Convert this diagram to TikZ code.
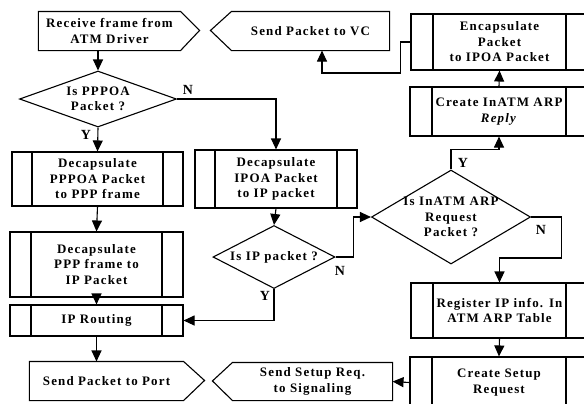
\documentclass[tikz,border=0pt]{standalone}
\usepackage{fontspec}
\setmainfont{Liberation Serif}[LetterSpace=9]
\usetikzlibrary{shapes.geometric,arrows.meta}
\begin{document}
\begin{tikzpicture}[x=1bp,y=-1bp,
  font=\bfseries\fontsize{13}{15.5}\selectfont,
  line width=1.1bp,
  arr/.style={-{Triangle[length=11bp,width=10bp]}},
  proc/.style={draw, rectangle, inner sep=0pt, align=center,
    path picture={\draw[line width=1.1bp]
      ([xshift=#1]path picture bounding box.north west) -- ([xshift=#1]path picture bounding box.south west)
      ([xshift=-#1]path picture bounding box.north east) -- ([xshift=-#1]path picture bounding box.south east);}},
  dia/.style={draw, diamond, inner sep=0pt},
  term/.style={rectangle, inner sep=0pt, align=center},
  yn/.style={inner sep=0pt, font=\bfseries\fontsize{14}{14}\selectfont}
]
\useasboundingbox (0,0) rectangle (584,403);
\fill[white] (0,0) rectangle (584,403);

% terminals (body nodes, outline drawn below)
\node[term, minimum width=141bp, minimum height=38bp] (p1) at (109.5,31) {Receive frame from\\ATM Driver};
\node[term, minimum width=157bp, minimum height=38bp] (p2) at (310.5,31) {Send Packet to VC};
\node[term, minimum width=153bp, minimum height=38bp] (p3) at (106.5,381) {Send Packet to Port};
\node[term, minimum width=159bp, minimum height=37bp] (p4) at (312.5,381.5) {Send Setup Req.\\to Signaling};
\draw (p1.north west) -- (p1.north east) -- ++(19,19) -- (p1.south east) -- (p1.south west) -- cycle;
\draw (p2.north east) -- (p2.north west) -- ++(-21,19) -- (p2.south west) -- (p2.south east) -- cycle;
\draw (p3.north west) -- (p3.north east) -- ++(21,19) -- (p3.south east) -- (p3.south west) -- cycle;
\draw (p4.north east) -- (p4.north west) -- ++(-20,18.5) -- (p4.south west) -- (p4.south east) -- cycle;

% decisions
\node[dia, minimum width=157bp, minimum height=56bp,
  label={[align=center]center:{Is PPPOA\\Packet ?}}] (d1) at (98,99) {};
\node[dia, minimum width=122bp, minimum height=63bp,
  label={[align=center]center:{Is IP packet ?}}] (d2) at (274,257) {};
\node[dia, minimum width=159bp, minimum height=94bp,
  label={[align=center]center:{Is InATM ARP\\Request\\Packet ?}}] (d3) at (451,217) {};

% processes
\node[proc=20bp, minimum width=171bp, minimum height=54bp] (b1) at (97.5,179) {Decapsulate\\PPPOA Packet\\to PPP frame};
\node[proc=20bp, minimum width=162bp, minimum height=58bp] (b2) at (276,179) {Decapsulate\\IPOA Packet\\to IP packet};
\node[proc=21bp, minimum width=173bp, minimum height=65bp] (b3) at (96.5,264.5) {Decapsulate\\PPP frame to\\IP Packet};
\node[proc=21bp, minimum width=173bp, minimum height=31bp] (b4) at (96.5,320.5) {IP Routing};
\node[proc=22bp, minimum width=177bp, minimum height=56bp] (b5) at (499.5,42) {Encapsulate\\Packet\\to IPOA Packet};
\node[proc=22bp, minimum width=178bp, minimum height=49bp] (b6) at (499,111.5) {Create InATM ARP\\\textit{Reply}};
\node[proc=22bp, minimum width=177bp, minimum height=55bp] (b7) at (499.5,310.5) {Register IP info. In\\ATM ARP Table};
\node[proc=22bp, minimum width=178bp, minimum height=51bp] (b8) at (499,382.5) {Create Setup\\Request};

% labels
\node[yn] (n1) at (188,90) {N};
\node[yn] (y1) at (86,135) {Y};
\node[yn] (n2) at (340,271) {N};
\node[yn] (y2) at (265,296) {Y};
\node[yn] (n3) at (541,230) {N};
\node[yn] (y3) at (463,163) {Y};

% connectors
\draw[arr] (d1.north |- p1.south) -- (d1.north);
\draw[arr] (d1.east) -| (b2.north);
\draw[arr] (d1.south) -- (b1.north);
\draw[arr] (b1.south) -- (b3.north);
\draw[arr] (b3.south) -- (b4.north);
\draw[arr] (b4.south) -- (b4.south |- p3.north);
\draw[arr] (b2.south) -- (d2.north);
\draw[arr] (d2.south) |- (b4.east);
\draw[arr] (d2.east) -- ++(18,0) |- (d3.west);
\draw[arr] (d3.east) -- ++(30,0) -- ++(0,41) -| (b7.north);
\draw[arr] (d3.north) -- ++(0,-20) -| (b6.south);
\draw[arr] (b6.north) -- (b5.south);
\draw[arr] (b5.west) -- ++(-10,0) -- ++(0,31) -| (p2.south -| 322,0);
\draw[arr] (b7.south) -- (b8.north);
\draw[arr] (b8.west) -- (p4.east);
\end{tikzpicture}
\end{document}
